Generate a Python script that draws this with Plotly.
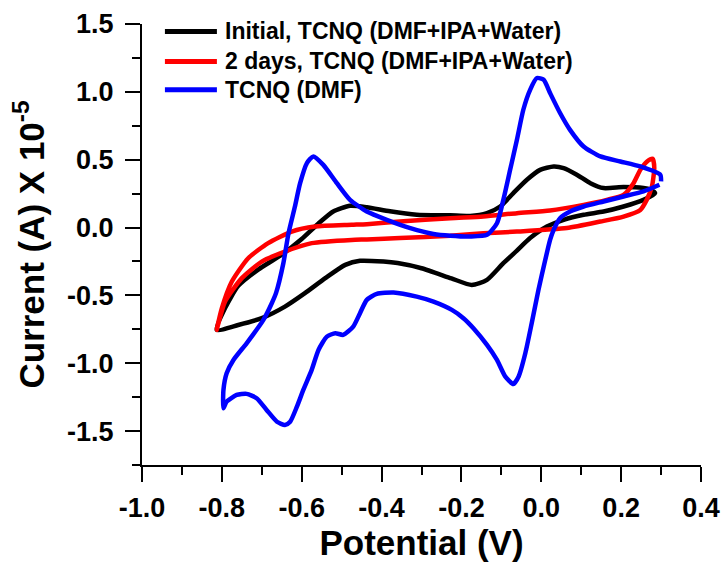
import plotly.graph_objects as go

# ---------------- data ----------------
initial_x = [-0.813, -0.759, -0.700, -0.642, -0.592, -0.541, -0.491, -0.454, -0.395, -0.360,
             -0.300, -0.225, -0.174, -0.136, -0.095, -0.061, -0.028, 0.014, 0.056, 0.106,
             0.156, 0.206, 0.256, 0.285, 0.273, 0.256, 0.206, 0.156, 0.123, 0.089,
             0.056, 0.031, -0.003, -0.036, -0.070, -0.103, -0.136, -0.178, -0.228, -0.312,
             -0.379, -0.437, -0.479, -0.521, -0.558, -0.600, -0.650, -0.709, -0.759, -0.792,
             -0.813]
initial_y = [-0.754, -0.718, -0.668, -0.583, -0.484, -0.373, -0.275, -0.245, -0.251, -0.262,
             -0.300, -0.375, -0.423, -0.386, -0.263, -0.170, -0.078, 0.007, 0.057, 0.094,
             0.118, 0.155, 0.204, 0.254, 0.280, 0.291, 0.298, 0.291, 0.327, 0.389,
             0.438, 0.450, 0.425, 0.352, 0.254, 0.155, 0.106, 0.085, 0.090, 0.095,
             0.120, 0.150, 0.160, 0.118, 0.030, -0.085, -0.200, -0.310, -0.430, -0.594,
             -0.754]

days2_x = [-0.813, -0.800, -0.775, -0.734, -0.684, -0.625, -0.567, -0.475, -0.437, -0.354,
           -0.228, -0.145, -0.061, 0.022, 0.106, 0.164, 0.206, 0.231, 0.248, 0.265,
           0.279, 0.283, 0.277, 0.264, 0.248, 0.206, 0.148, 0.064, -0.061, -0.145,
           -0.228, -0.354, -0.437, -0.475, -0.575, -0.642, -0.700, -0.750, -0.792, -0.813]
days2_y = [-0.754, -0.594, -0.398, -0.226, -0.115, -0.030, 0.007, 0.020, 0.025, 0.044,
           0.069, 0.081, 0.106, 0.125, 0.167, 0.204, 0.241, 0.327, 0.425, 0.487,
           0.507, 0.438, 0.302, 0.204, 0.130, 0.081, 0.044, -0.004, -0.030, -0.042,
           -0.060, -0.078, -0.088, -0.091, -0.115, -0.177, -0.251, -0.373, -0.546, -0.754]

dmf_x = [0.296, 0.256, 0.206, 0.156, 0.106, 0.072, 0.047, 0.031, 0.022, 0.010,
         -0.007, -0.024, -0.040, -0.057, -0.070, -0.090, -0.111, -0.136, -0.170, -0.195,
         -0.224, -0.270, -0.312, -0.370, -0.412, -0.437, -0.454, -0.471, -0.496, -0.516,
         -0.537, -0.558, -0.575, -0.596, -0.612, -0.629, -0.642, -0.662, -0.688, -0.713,
         -0.738, -0.763, -0.788, -0.796, -0.796, -0.788, -0.771, -0.738, -0.696, -0.675,
         -0.664, -0.646, -0.633, -0.617, -0.604, -0.587, -0.571, -0.546, -0.512, -0.479,
         -0.437, -0.387, -0.328, -0.270, -0.228, -0.178, -0.136, -0.111, -0.095, -0.078,
         -0.061, -0.045, -0.028, -0.011, 0.006, 0.022, 0.047, 0.072, 0.106, 0.148,
         0.198, 0.248, 0.298, 0.300]
dmf_y = [0.315, 0.266, 0.229, 0.192, 0.155, 0.118, 0.069, -0.017, -0.091, -0.238,
         -0.459, -0.705, -0.926, -1.099, -1.153, -1.099, -0.976, -0.865, -0.742, -0.668,
         -0.607, -0.546, -0.509, -0.479, -0.489, -0.533, -0.631, -0.730, -0.791, -0.779,
         -0.804, -0.902, -1.049, -1.197, -1.320, -1.431, -1.455, -1.431, -1.344, -1.258,
         -1.226, -1.234, -1.283, -1.332, -1.197, -1.074, -0.976, -0.853, -0.681, -0.558,
         -0.480, -0.263, -0.041, 0.155, 0.327, 0.475, 0.524, 0.462, 0.327, 0.204,
         0.118, 0.057, -0.004, -0.047, -0.060, -0.066, -0.054, 0.032, 0.204, 0.425,
         0.647, 0.868, 1.015, 1.102, 1.089, 0.991, 0.844, 0.720, 0.597, 0.524,
         0.487, 0.450, 0.389, 0.340]

series_names = ["Initial, TCNQ (DMF+IPA+Water)", "2 days, TCNQ (DMF+IPA+Water)", "TCNQ (DMF)"]
series_colors = ["#000000", "#ff0000", "#0000ff"]

x_tick_vals = [-1.0, -0.8, -0.6, -0.4, -0.2, 0.0, 0.2, 0.4]
x_tick_text = ["-1.0", "-0.8", "-0.6", "-0.4", "-0.2", "0.0", "0.2", "0.4"]
y_tick_vals = [-1.5, -1.0, -0.5, 0.0, 0.5, 1.0, 1.5]
y_tick_text = ["-1.5", "-1.0", "-0.5", "0.0", "0.5", "1.0", "1.5"]

# ---------------- figure ----------------
FONT = "Liberation Sans, Arial, Helvetica, sans-serif"
fig = go.Figure()
for xs, ys, name, col in zip([initial_x, days2_x, dmf_x], [initial_y, days2_y, dmf_y],
                             series_names, series_colors):
    fig.add_trace(go.Scatter(x=xs, y=ys, mode="lines", name=name,
                             line=dict(color=col, width=4.5, shape="spline", smoothing=0.6),
                             showlegend=False))

axis_common = dict(showline=True, linecolor="black", linewidth=2, ticks="outside",
                   ticklen=15, tickwidth=2, tickcolor="black", showgrid=False,
                   zeroline=False, mirror=False,
                   tickfont=dict(family=FONT, size=27, color="black", weight="bold"))

fig.update_xaxes(range=[-1.0, 0.4], tickmode="array", tickvals=x_tick_vals,
                 ticktext=x_tick_text,
                 minor=dict(tickmode="linear", tick0=-1.0, dtick=0.1, ticks="outside",
                            ticklen=8, tickwidth=2, tickcolor="black"),
                 title=dict(text="Potential (V)", standoff=6,
                            font=dict(family=FONT, size=35, color="black", weight="bold")),
                 ticklabelstandoff=3,
                 **axis_common)
fig.update_yaxes(range=[-1.75, 1.5], tickmode="array", tickvals=y_tick_vals,
                 ticktext=y_tick_text,
                 minor=dict(tickmode="linear", tick0=-1.75, dtick=0.25, ticks="outside",
                            ticklen=8, tickwidth=2, tickcolor="black"),
                 title=dict(text="Current (A) X 10<sup>-5</sup>", standoff=12,
                            font=dict(family=FONT, size=35, color="black", weight="bold")),
                 ticklabelstandoff=6,
                 **axis_common)

# manual legend (long line samples like the reference)
legend_y = [0.983, 0.915, 0.851]
for name, col, ly in zip(series_names, series_colors, legend_y):
    fig.add_shape(type="line", xref="paper", yref="paper", x0=0.041, x1=0.134,
                  y0=ly, y1=ly, line=dict(color=col, width=5))
    fig.add_annotation(xref="paper", yref="paper", x=0.145, y=ly, text=name,
                       showarrow=False, xanchor="left", yanchor="middle",
                       font=dict(family=FONT, size=23, color="black", weight="bold"))

fig.update_layout(width=724, height=566,
                  margin=dict(l=142, r=23, t=24, b=101, autoexpand=False),
                  paper_bgcolor="white", plot_bgcolor="white",
                  font=dict(family=FONT, color="black"))

fig.write_html("out.html")
